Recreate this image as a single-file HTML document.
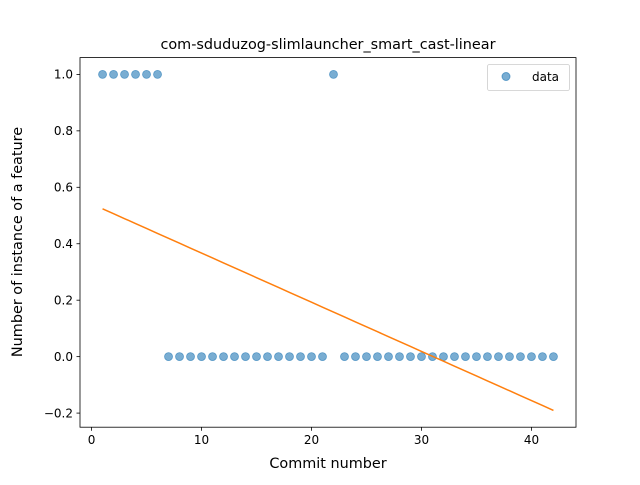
<!DOCTYPE html>
<html><head><meta charset="utf-8"><style>
body{margin:0;background:#fff;}
svg text{font-family:"DejaVu Sans","Liberation Sans",sans-serif;fill:#000;}
</style></head><body>
<svg id="chart" width="640" height="480" xmlns="http://www.w3.org/2000/svg">
<rect width="640" height="480" fill="#fff"/>
<text x="328" y="49" font-size="14.4" text-anchor="middle">com-sduduzog-slimlauncher_smart_cast-linear</text>
<g id="plot"></g>
<rect x="80" y="57.6" width="496" height="369.6" fill="none" stroke="#000" stroke-width="0.8"/>
<text x="328" y="468" font-size="14.4" text-anchor="middle">Commit number</text>
<text transform="translate(22,242) rotate(-90)" font-size="14.4" text-anchor="middle">Number of instance of a feature</text>
<g>
<rect x="487.5" y="64.5" width="82" height="26" rx="2" fill="#fff" stroke="#ccc" stroke-width="0.8"/>
<circle cx="506" cy="76.5" r="4" fill="#1f77b4" fill-opacity="0.6" stroke="#1f77b4" stroke-opacity="0.6"/>
<text x="532" y="81" font-size="12">data</text>
</g>
</svg>
<script>
const commits = [];
for (let i = 1; i <= 42; i++) commits.push(i);
const values = [1,1,1,1,1,1,0,0,0,0,0,0,0,0,0,0,0,0,0,0,0,1,0,0,0,0,0,0,0,0,0,0,0,0,0,0,0,0,0,0,0,0];
const xTicks = [0,10,20,30,40];
const yTicks = [-0.2,0,0.2,0.4,0.6,0.8,1.0];
const yTickLabels = ["\u22120.2","0.0","0.2","0.4","0.6","0.8","1.0"];

const L=80,R=576,T=57.6,B=427.2;
const n=commits.length;
const mx=commits.reduce((a,b)=>a+b,0)/n, my=values.reduce((a,b)=>a+b,0)/n;
let sxy=0,sxx=0;
for(let i=0;i<n;i++){sxy+=(commits[i]-mx)*(values[i]-my);sxx+=(commits[i]-mx)**2;}
const slope=sxy/sxx, icpt=my-slope*mx;
const fit=commits.map(x=>icpt+slope*x);
const xmin0=Math.min(...commits),xmax0=Math.max(...commits);
const allY=values.concat(fit);
const ymin0=Math.min(...allY),ymax0=Math.max(...allY);
const xp=(xmax0-xmin0)*0.05, yp=(ymax0-ymin0)*0.05;
const x0=xmin0-xp,x1=xmax0+xp,y0=ymin0-yp,y1=ymax0+yp;
const sx=v=>L+(v-x0)/(x1-x0)*(R-L);
const sy=v=>B-(v-y0)/(y1-y0)*(B-T);
const NS="http://www.w3.org/2000/svg";
const g=document.getElementById('plot');
function mk(tag,attrs){const e=document.createElementNS(NS,tag);for(const k in attrs)e.setAttribute(k,attrs[k]);g.appendChild(e);return e;}
xTicks.forEach(t=>{
  const l=mk('line',{x1:sx(t),x2:sx(t),y1:B,y2:B+3.5,stroke:'#000','stroke-width':0.8});
  
  
  const tx=mk('text',{x:sx(t),y:B+17,'font-size':12,'text-anchor':'middle'});
  tx.textContent=t;
  
  
});
yTicks.forEach((t,i)=>{
  const l=mk('line',{x1:L-3.5,x2:L,y1:sy(t),y2:sy(t),stroke:'#000','stroke-width':0.8});
  
  
  const tx=mk('text',{x:L-7,y:sy(t)+4.3,'font-size':12,'text-anchor':'end'});
  tx.textContent=yTickLabels[i];
  
  
});
commits.forEach((c,i)=>{
  const p=mk('circle',{cx:sx(c),cy:sy(values[i]),r:4,fill:'#1f77b4','fill-opacity':0.6,stroke:'#1f77b4','stroke-opacity':0.6,'stroke-width':0.8});
  
  
});
const line=mk('polyline',{points:commits.map((c,i)=>sx(c)+','+sy(fit[i])).join(' '),fill:'none',stroke:'#ff7f0e','stroke-width':1.5});


</script>
</body></html>
